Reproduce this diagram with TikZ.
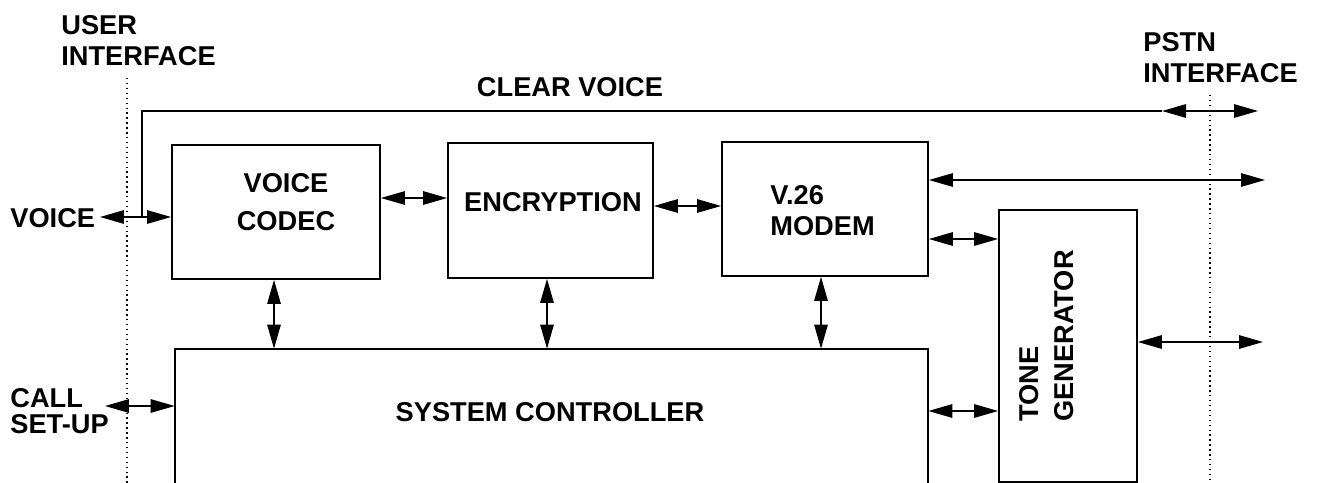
\documentclass[tikz,border=0pt]{standalone}
\usepackage{fontspec}
\setmainfont{Liberation Sans}
\usetikzlibrary{arrows.meta,fit,positioning}
\tikzstyle{box} = [rectangle, draw=black, line width=1pt, inner sep=0pt]
\tikzstyle{lbl} = [inner sep=0pt, font=\bfseries\fontsize{15.5}{18}\selectfont, align=left]
\tikzstyle{arrow} = [line width=0.75pt, >={Triangle[length=0.48cm,width=0.27cm]}, <->]
\tikzstyle{line} = [line width=0.75pt]
\tikzstyle{bound} = [dotted, line width=0.8pt]

\begin{document}
\begin{tikzpicture}[x=0.02cm, y=-0.02cm]
\useasboundingbox (0,0) rectangle (1321,483);

% interfaces
\node(user) [lbl, anchor=north west] at (61,15) {USER\\INTERFACE};
\node(pstn) [lbl, anchor=north west] at (1143,32) {PSTN\\INTERFACE};
\draw [bound] (127,78) -- (127,483);
\draw [bound] (1210,95) -- (1210,483);

\node(voice) [lbl, anchor=west] at (10,218) {VOICE};
\node(call) [lbl, anchor=north west] at (10,388) {CALL\\[-3pt]SET-UP};
\node(clear) [lbl] at (570,87) {CLEAR VOICE};

% blocks
\node(codec) [box, fit={(172,145) (380,279)}] {};
\node(codect) [lbl, align=center] at (286,202) {VOICE\\[3.5pt]CODEC};
\node(enc) [box, fit={(448,143) (653,278)}] {};
\node(enct) [lbl] at (553,202) {ENCRYPTION};
\node(modem) [box, fit={(722,142) (928,276)}] {};
\node(modemt) [lbl, anchor=north west] at (770,185) {V.26\\MODEM};
\node(tone) [box, fit={(999,210) (1137,482)}] {};
\node(tonet) [lbl, rotate=90, anchor=west] at (1047,422) {TONE\\[2pt]GENERATOR};
\node(sys) [inner sep=0pt, fit={(175,349) (928,483)}] {};
\draw [line width=1pt] (sys.south west) -- (sys.north west) -- (sys.north east) -- (sys.south east);
\node(syst) [lbl] at (550,412) {SYSTEM CONTROLLER};

% connectors
\coordinate (vc1) at (100,217);
\coordinate (cv0) at (142,217);
\coordinate (cv1) at (1162,111);
\coordinate (cv2) at (1258,111);
\coordinate (m1) at (1265,180);
\coordinate (t1) at (1263,342);
\coordinate (cs1) at (105,406);

\draw [arrow] (vc1) -- (codec.west |- vc1);
\draw [line] (cv0) |- (cv1);
\draw [arrow] (cv1) -- (cv2);
\draw [arrow] (codec.east |- 0,198) -- (enc.west |- 0,198);
\draw [arrow] (enc.east |- 0,206) -- (modem.west |- 0,206);
\draw [arrow] (modem.east |- m1) -- (m1);
\draw [arrow] (modem.east |- 0,239) -- (tone.west |- 0,239);
\draw [arrow] (sys.east |- 0,411) -- (tone.west |- 0,411);
\draw [arrow] (tone.east |- t1) -- (t1);
\draw [arrow] (codec.south -| 274,0) -- (sys.north -| 274,0);
\draw [arrow] (enc.south -| 547,0) -- (sys.north -| 547,0);
\draw [arrow] (modem.south -| 821,0) -- (sys.north -| 821,0);
\draw [arrow] (cs1) -- (sys.west |- cs1);
\end{tikzpicture}
\end{document}
